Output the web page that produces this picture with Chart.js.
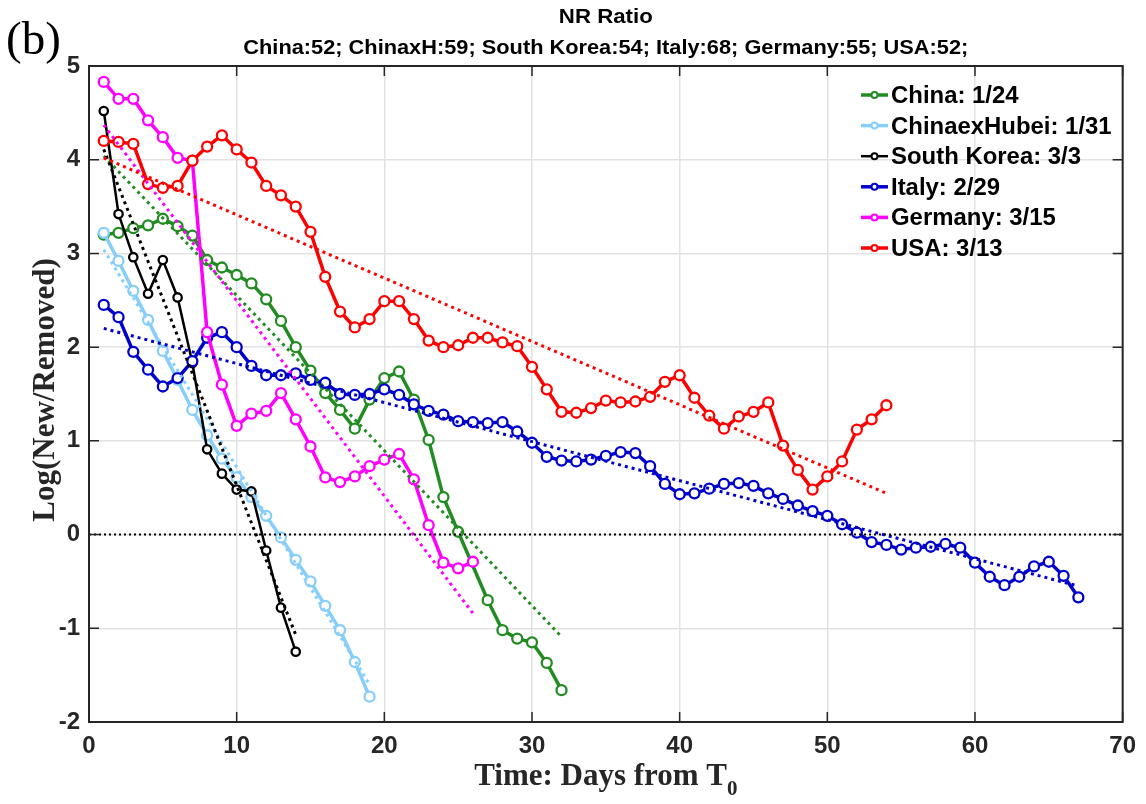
<!DOCTYPE html>
<html><head><meta charset="utf-8">
<script src="https://cdn.jsdelivr.net/npm/chart.js@4.4.1/dist/chart.umd.min.js"></script>
<style>html,body{margin:0;padding:0;background:#fff;} canvas{display:block;}</style>
</head><body>
<canvas id="c" width="1146" height="804"></canvas>
<script>
// ---- data ----
const seriesNames = ['China: 1/24','ChinaexHubei: 1/31','South Korea: 3/3','Italy: 2/29','Germany: 3/15','USA: 3/13'];
const seriesColors = ['#228B22','#87CEFA','#000000','#0000CD','#FF00FF','#FF0000'];
const china = [3.20,3.22,3.27,3.30,3.37,3.29,3.19,2.93,2.85,2.77,2.68,2.51,2.28,2.00,1.75,1.51,1.33,1.13,1.44,1.67,1.74,1.44,1.01,0.40,0.03,null,-0.70,-1.02,-1.11,-1.15,-1.37,-1.66];
const chinaExHubei = [3.22,2.92,2.60,2.29,1.96,1.65,1.33,1.06,0.81,0.61,0.40,0.20,-0.03,-0.27,-0.50,-0.76,-1.02,-1.36,-1.73];
const southKorea = [4.52,3.42,2.96,2.57,2.93,2.53,1.83,0.91,0.65,0.48,0.46,-0.17,-0.78,-1.25];
const italy = [2.45,2.32,1.95,1.76,1.58,1.67,1.85,2.10,2.16,2.00,1.80,1.70,1.70,1.72,1.65,1.62,1.50,1.49,1.50,1.55,1.49,1.39,1.32,1.28,1.21,1.20,1.19,1.20,1.10,0.98,0.83,0.79,0.78,0.80,0.84,0.88,0.87,0.73,0.54,0.43,0.44,0.49,0.54,0.55,0.52,0.44,0.38,0.31,0.25,0.20,0.11,0.02,-0.08,-0.11,-0.16,-0.14,-0.13,-0.10,-0.14,-0.30,-0.45,-0.54,-0.45,-0.34,-0.29,-0.44,-0.67];
const germany = [4.83,4.65,4.65,4.42,4.24,4.02,3.99,2.16,1.60,1.16,1.29,1.32,1.51,1.23,0.94,0.61,0.56,0.62,0.73,0.80,0.86,0.59,0.10,-0.30,-0.36,-0.29];
const usa = [4.20,4.19,4.17,3.74,3.70,3.72,3.99,4.14,4.26,4.11,3.97,3.72,3.62,3.50,3.23,2.75,2.38,2.21,2.30,2.49,2.49,2.30,2.07,2.00,2.02,2.10,2.10,2.05,2.01,1.79,1.55,1.31,1.30,1.35,1.43,1.41,1.42,1.47,1.63,1.70,1.46,1.27,1.13,1.26,1.31,1.41,0.95,0.69,0.48,0.62,0.78,1.12,1.23,1.38];
const trendStart = [4.04,3.04,4.11,2.20,4.37,4.02];
const trendEnd = [-1.09,-1.60,-1.07,-0.55,-0.84,0.44];
const xTicks = [0,10,20,30,40,50,60,70];
const yTicks = [-2,-1,0,1,2,3,4,5];
const titleText = 'NR Ratio';
const subtitleText = 'China:52; ChinaxH:59; South Korea:54; Italy:68; Germany:55; USA:52;';
const panelText = '(b)';
const yTitle = 'Log(New/Removed)';
const xTitleMain = 'Time: Days from T';
const xTitleSub = '0';

const allSeries = [china, chinaExHubei, southKorea, italy, germany, usa];

const datasets = [];
allSeries.forEach((vals, i) => {
  datasets.push({
    label: seriesNames[i],
    data: vals.map((v, k) => ({x: k + 1, y: v})),
    borderColor: seriesColors[i],
    borderWidth: i === 2 ? 2.5 : 3.5,
    pointRadius: i === 2 ? 4.2 : 5,
    pointBorderWidth: 2.3,
    pointBackgroundColor: '#ffffff',
    pointBorderColor: seriesColors[i],
    spanGaps: true,
    tension: 0,
    order: 20 - i
  });
});
allSeries.forEach((vals, i) => {
  datasets.push({
    label: 'trend' + i,
    data: [{x: 1, y: trendStart[i]}, {x: vals.length, y: trendEnd[i]}],
    borderColor: seriesColors[i],
    borderWidth: 3,
    borderDash: [3, 4],
    pointRadius: 0,
    order: 10 - i
  });
});
datasets.push({
  label: 'zero',
  data: [{x: xTicks[0], y: 0}, {x: xTicks[xTicks.length - 1], y: 0}],
  borderColor: '#000000',
  borderWidth: 2,
  borderDash: [2, 3],
  pointRadius: 0,
  order: 0
});

function txt(ctx, s, x, y, font, align, sx, baseline, color) {
  ctx.save();
  ctx.font = font;
  ctx.fillStyle = color || '#000';
  ctx.textAlign = align;
  ctx.textBaseline = baseline || 'alphabetic';
  ctx.translate(x, y);
  ctx.scale(sx, 1);
  ctx.fillText(s, 0, 0);
  ctx.restore();
}

const decor = {
  id: 'decor',
  afterDraw(chart) {
    const ctx = chart.ctx;
    const a = chart.chartArea;
    const xs = chart.scales.x, ys = chart.scales.y;
    ctx.save();
    ctx.strokeStyle = '#262626';
    ctx.lineWidth = 1.5;
    ctx.beginPath();
    xTicks.forEach(v => {
      const px = xs.getPixelForValue(v);
      ctx.moveTo(px, a.bottom); ctx.lineTo(px, a.bottom - 10);
      ctx.moveTo(px, a.top); ctx.lineTo(px, a.top + 10);
    });
    yTicks.forEach(v => {
      const py = ys.getPixelForValue(v);
      ctx.moveTo(a.left, py); ctx.lineTo(a.left + 10, py);
      ctx.moveTo(a.right, py); ctx.lineTo(a.right - 10, py);
    });
    ctx.stroke();
    ctx.lineWidth = 2;
    ctx.strokeRect(a.left, a.top, a.right - a.left, a.bottom - a.top);
    ctx.restore();

    const cx = (a.left + a.right) / 2;
    txt(ctx, titleText, cx, 23, 'bold 21px "Liberation Sans", Arial', 'center', 1.06);
    ctx.save();
    ctx.font = 'bold 20px "Liberation Sans", Arial';
    const sw = ctx.measureText(subtitleText).width;
    ctx.restore();
    txt(ctx, subtitleText, cx, 54, 'bold 20px "Liberation Sans", Arial', 'center', 725 / sw);
    txt(ctx, panelText, 6, 54, '47px "Liberation Serif", "Times New Roman"', 'left', 1);

    ctx.save();
    ctx.translate(46, (a.top + a.bottom) / 2 - 4);
    ctx.rotate(-Math.PI / 2);
    txt(ctx, yTitle, 0, 0, 'bold 31px "Liberation Serif", "Times New Roman"', 'center', 1, 'middle', '#262626');
    ctx.restore();

    ctx.save();
    ctx.font = 'bold 31px "Liberation Serif", "Times New Roman"';
    const w1 = ctx.measureText(xTitleMain).width;
    ctx.font = 'bold 21px "Liberation Serif", "Times New Roman"';
    const w2 = ctx.measureText(xTitleSub).width;
    ctx.restore();
    const x0 = cx - (w1 + w2) / 2;
    txt(ctx, xTitleMain, x0, 785, 'bold 31px "Liberation Serif", "Times New Roman"', 'left', 1, 'alphabetic', '#262626');
    txt(ctx, xTitleSub, x0 + w1, 795, 'bold 21px "Liberation Serif", "Times New Roman"', 'left', 1, 'alphabetic', '#262626');

    seriesNames.forEach((name, i) => {
      const y = 95 + i * 30.6;
      ctx.save();
      ctx.strokeStyle = seriesColors[i];
      ctx.lineWidth = i === 2 ? 2.5 : 3.5;
      ctx.beginPath(); ctx.moveTo(861, y); ctx.lineTo(888, y); ctx.stroke();
      ctx.beginPath(); ctx.arc(874.5, y, 3, 0, Math.PI * 2);
      ctx.fillStyle = '#fff'; ctx.fill();
      ctx.lineWidth = 2; ctx.stroke();
      ctx.restore();
      txt(ctx, name, 891, y + 8, 'bold 23px "Liberation Sans", Arial', 'left', 1.04, 'alphabetic', '#000');
    });
  }
};

new Chart(document.getElementById('c'), {
  type: 'line',
  data: {datasets},
  options: {
    responsive: false,
    animation: false,
    devicePixelRatio: 1,
    layout: {padding: {left: 0, right: 18, top: 66, bottom: 0}},
    plugins: {legend: {display: false}, title: {display: false}, tooltip: {enabled: false}},
    scales: {
      x: {
        type: 'linear', min: xTicks[0], max: xTicks[xTicks.length - 1],
        afterBuildTicks: s => { s.ticks = xTicks.map(v => ({value: v})); },
        afterFit: s => { s.height = 82; },
        grid: {color: '#e2e2e2', lineWidth: 1.5, drawTicks: false},
        border: {display: false},
        ticks: {padding: 10, color: '#262626', maxRotation: 0, autoSkip: false,
                font: {family: '"Liberation Sans", Arial', size: 24, weight: 'bold'}}
      },
      y: {
        type: 'linear', min: yTicks[0], max: yTicks[yTicks.length - 1],
        afterBuildTicks: s => { s.ticks = yTicks.map(v => ({value: v})); },
        afterFit: s => { s.width = 89; },
        grid: {color: '#e2e2e2', lineWidth: 1.5, drawTicks: false},
        border: {display: false},
        ticks: {padding: 9, color: '#262626', autoSkip: false,
                font: {family: '"Liberation Sans", Arial', size: 24, weight: 'bold'}}
      }
    }
  },
  plugins: [decor]
});
</script>
</body></html>
